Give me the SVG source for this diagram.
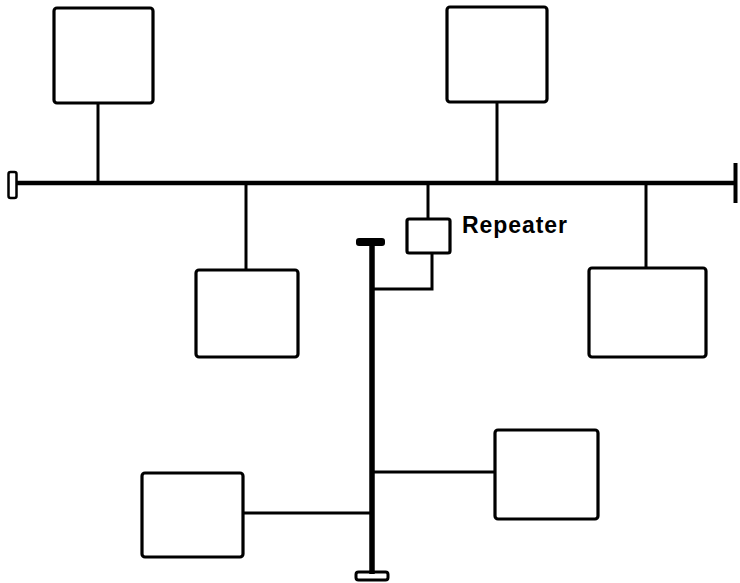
<svg xmlns="http://www.w3.org/2000/svg" width="740" height="583" viewBox="0 0 740 583">
<style>
.box{fill:none;stroke:#000;stroke-width:3.2;stroke-linejoin:round}
.ln{fill:none;stroke:#000;stroke-width:3}
.bus{fill:none;stroke:#000;stroke-width:4.5}
.lbl{font-family:"Liberation Sans",Arial,sans-serif;font-weight:bold;font-size:23px;fill:#000}
</style>
<rect width="740" height="583" fill="#fff"/>
<g id="connectors">
<line class="bus" x1="17" y1="183" x2="736" y2="183"/>
<rect x="8.5" y="172" width="8" height="26" rx="2" fill="none" stroke="#000" stroke-width="2.5"/>
<line x1="735.5" y1="163" x2="735.5" y2="203" stroke="#000" stroke-width="4"/>
<line class="ln" x1="98" y1="103" x2="98" y2="183"/>
<line class="ln" x1="497" y1="102" x2="497" y2="183"/>
<line class="ln" x1="246" y1="183" x2="246" y2="270"/>
<line class="ln" x1="646" y1="183" x2="646" y2="268"/>
<line class="ln" x1="428" y1="183" x2="428" y2="219"/>
<polyline class="ln" points="432,253 432,289 372,289"/>
<line x1="372" y1="242" x2="372" y2="574" stroke="#000" stroke-width="5.5"/>
<rect x="356" y="238" width="29" height="8" rx="3" fill="#000"/>
<rect x="356" y="572" width="32" height="8" rx="2.5" fill="none" stroke="#000" stroke-width="3"/>
<line class="ln" x1="243" y1="513" x2="372" y2="513"/>
<line class="ln" x1="372" y1="472" x2="495" y2="472"/>
</g>
<g id="node1"><rect class="box" x="54" y="8" width="99" height="95" rx="3"/></g>
<g id="node2"><rect class="box" x="447" y="7" width="100" height="95" rx="3"/></g>
<g id="node3"><rect class="box" x="196" y="270" width="102" height="87" rx="3"/></g>
<g id="node4"><rect class="box" x="589" y="268" width="117" height="89" rx="3"/></g>
<g id="node5"><rect class="box" x="142" y="473" width="101" height="84" rx="3"/></g>
<g id="node6"><rect class="box" x="495" y="430" width="103" height="89" rx="3"/></g>
<g id="repeater">
<rect class="box" x="407" y="219" width="43" height="34" rx="2"/>
<text class="lbl" x="462" y="233" textLength="105" lengthAdjust="spacing">Repeater</text>
</g>
</svg>
